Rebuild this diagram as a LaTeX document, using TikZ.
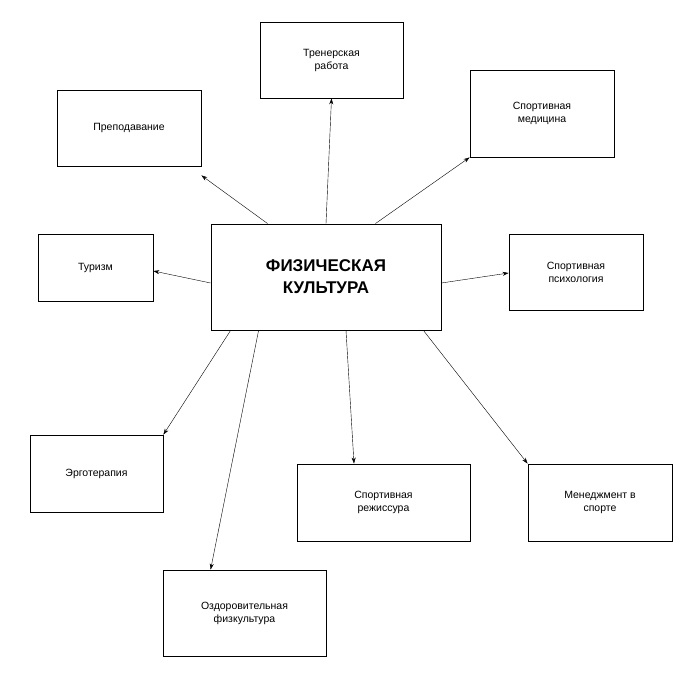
\documentclass[tikz,border=0pt]{standalone}
\usepackage{fontspec}
\setmainfont{Liberation Sans}
\usetikzlibrary{arrows.meta}

\begin{document}
\begin{tikzpicture}
	[x=1pt, y=-1pt, >={Stealth[length=6pt,width=4pt]},
	 box/.style={draw, thick, align=center, inner sep=0pt, font=\fontsize{10.5}{13}\selectfont}]
   \useasboundingbox (0,0) rectangle (697,677);
   \node[box, minimum width=230, minimum height=106, font=\bfseries\fontsize{17}{22}\selectfont] (fk) at (326,277) {ФИЗИЧЕСКАЯ\\КУЛЬТУРА};
   \node[box, minimum width=143, minimum height=76] (trener) at (331.5,60) {Тренерская\\работа};
   \node[box, minimum width=144, minimum height=76] (prepod) at (129,128) {Преподавание};
   \node[box, minimum width=144, minimum height=87] (medic) at (542,113.5) {Спортивная\\медицина};
   \node[box, minimum width=115, minimum height=67] (turizm) at (95.5,267.5) {Туризм};
   \node[box, minimum width=134, minimum height=76] (psych) at (576,272) {Спортивная\\психология};
   \node[box, minimum width=133, minimum height=77] (ergo) at (96.5,473.5) {Эрготерапия};
   \node[box, minimum width=173, minimum height=77] (rezh) at (383.5,502.5) {Спортивная\\режиссура};
   \node[box, minimum width=144, minimum height=77] (menedzh) at (600,502.5) {Менеджмент в\\спорте};
   \node[box, minimum width=163, minimum height=86] (ozdor) at (244.5,613) {Оздоровительная\\физкультура};
    % arrows from the centre
    \draw[->] (fk.north) -- (trener.south);
    \draw[->] ([xshift=57]fk.north west) -- ([yshift=-9]prepod.south east);
    \draw[->] ([xshift=-66]fk.north east) -- ([yshift=-0]medic.south west);
    \draw[->] ([yshift=-6]fk.west) -- ([yshift=-3.5]turizm.east);
    \draw[->] ([yshift=-6]fk.east) -- ([yshift=-1]psych.west);
    \draw[->] ([xshift=20]fk.south west) -- ([xshift=-0]ergo.north east);
    \draw[->] ([xshift=48]fk.south west) -- ([xshift=48]ozdor.north west);
    \draw[->] ([xshift=20]fk.south) -- ([xshift=-29.5]rezh.north);
    \draw[->] ([xshift=-18]fk.south east) -- (menedzh.north west);
\end{tikzpicture}
\end{document}
